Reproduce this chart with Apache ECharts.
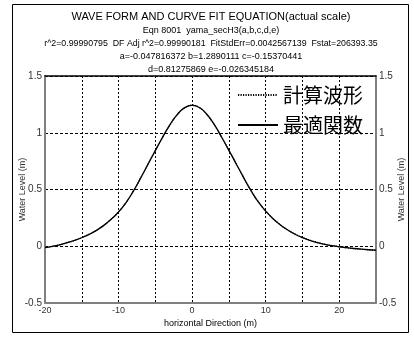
<!DOCTYPE html>
<html>
<head>
<meta charset="utf-8">
<script src="https://cdn.jsdelivr.net/npm/echarts@6/dist/echarts.min.js"></script>
<style>
  html, body { margin: 0; padding: 0; background: #fff; }
  #chart { width: 414px; height: 338px; }
</style>
</head>
<body>
<div id="chart"></div>
<script>
// horizontal position (m)
const xPos = [-20, -19, -18, -17, -16, -15, -14, -13, -12, -11, -10, -9, -8, -7, -6, -5, -4, -3, -2, -1,
  0, 1, 2, 3, 4, 5, 6, 7, 8, 9, 10, 11, 12, 13, 14, 15, 16, 17, 18, 19, 20, 21, 22, 23, 24, 25];

// 最適関数 (fitted curve)
const fitLevel = [-0.012, -0.001, 0.013, 0.031, 0.051, 0.075, 0.104, 0.140, 0.184, 0.238,
  0.302, 0.383, 0.484, 0.600, 0.722, 0.843, 0.962, 1.072, 1.162, 1.221,
  1.242, 1.222, 1.163, 1.073, 0.963, 0.845, 0.725, 0.605, 0.490, 0.390,
  0.310, 0.243, 0.188, 0.143, 0.106, 0.076, 0.052, 0.033, 0.017, 0.005,
  -0.005, -0.013, -0.020, -0.026, -0.031, -0.035];

// 計算波形 (computed wave)
const calcLevel = [-0.010, 0.000, 0.014, 0.032, 0.052, 0.077, 0.105, 0.141, 0.185, 0.239,
  0.303, 0.385, 0.486, 0.602, 0.723, 0.844, 0.962, 1.071, 1.160, 1.220,
  1.244, 1.221, 1.161, 1.072, 0.963, 0.846, 0.727, 0.607, 0.492, 0.392,
  0.311, 0.244, 0.189, 0.144, 0.107, 0.078, 0.054, 0.035, 0.018, 0.006,
  -0.004, -0.013, -0.021, -0.027, -0.032, -0.036];

const xTickLabels = [-20, -10, 0, 10, 20];

const titleLines = [
  "WAVE FORM AND CURVE FIT EQUATION(actual scale)",
  "Eqn 8001  yama_secH3(a,b,c,d,e)",
  "r^2=0.99990795  DF Adj r^2=0.99990181  FitStdErr=0.0042567139  Fstat=206393.35",
  "a=-0.047816372 b=1.2890111 c=-0.15370441",
  "d=0.81275869 e=-0.026345184",
];

const latin = "'Liberation Sans', Arial, sans-serif";
const cjk = "'Noto Sans CJK JP', sans-serif";

const chart = echarts.init(document.getElementById("chart"), null, { renderer: "canvas" });

const titleY = [17, 31, 44, 57, 70];
const titleSize = [11, 9, 8.8, 9, 9];
const titleGraphics = titleLines.map((t, i) => ({
  type: "text",
  silent: true,
  style: {
    text: t,
    x: 211,
    y: titleY[i],
    align: "center",
    verticalAlign: "middle",
    fill: "#000",
    font: titleSize[i] + "px " + latin,
  },
}));

const yAxisBase = {
  type: "value",
  min: -0.5,
  max: 1.5,
  interval: 0.5,
  axisTick: { show: false },
  axisLine: { show: true, onZero: false, lineStyle: { color: "#808080", width: 2 } },
  axisLabel: { fontSize: 10, color: "#333", margin: 3, fontFamily: latin },
  name: "Water Level (m)",
  nameLocation: "middle",
  nameRotate: 90,
  nameMoveOverlap: false,
  nameTextStyle: { fontSize: 9, color: "#333", fontFamily: latin },
};

chart.setOption({
  animation: false,
  backgroundColor: "#fff",
  textStyle: { fontFamily: latin },
  grid: { left: 45, right: 32, top: 76, bottom: 35 },
  graphic: [
    {
      type: "rect",
      silent: true,
      shape: { x: 12.5, y: 4.5, width: 396, height: 328 },
      style: { fill: "none", stroke: "#000", lineWidth: 1 },
    },
    ...titleGraphics,
  ],
  legend: {
    orient: "vertical",
    left: 232,
    top: 80,
    itemWidth: 40,
    itemHeight: 14,
    itemGap: 10,
    itemStyle: { color: "rgba(0,0,0,0)", borderColor: "rgba(0,0,0,0)", borderWidth: 0 },
    textStyle: { fontSize: 20, color: "#000", fontFamily: cjk },
    data: [
      { name: "計算波形", lineStyle: { width: 2, type: [1.2, 1.3], color: "#000" } },
      { name: "最適関数", lineStyle: { width: 2, color: "#000" } },
    ],
  },
  xAxis: [
    {
      type: "value",
      position: "bottom",
      min: -20,
      max: 25,
      interval: 5,
      axisTick: { show: false },
      axisLine: { onZero: false, lineStyle: { color: "#808080", width: 2 } },
      axisLabel: {
        fontSize: 9,
        color: "#333",
        margin: 3,
        formatter: (v) => (xTickLabels.includes(v) ? String(v) : ""),
      },
      splitLine: { show: true, lineStyle: { color: "#000", type: [2, 2], width: 1 } },
      name: "horizontal Direction (m)",
      nameLocation: "middle",
      nameGap: 16,
      nameMoveOverlap: false,
      nameTextStyle: { fontSize: 9, color: "#000" },
    },
    {
      type: "value",
      position: "top",
      min: -20,
      max: 25,
      interval: 5,
      axisTick: { show: false },
      axisLabel: { show: false },
      splitLine: { show: false },
      axisLine: { show: true, onZero: false, lineStyle: { color: "#000", width: 1.5 } },
    },
  ],
  yAxis: [
    {
      ...yAxisBase,
      position: "left",
      nameGap: 18,
      splitLine: { show: true, lineStyle: { color: "#000", type: [3, 2], width: 1 } },
    },
    {
      ...yAxisBase,
      position: "right",
      nameGap: 21,
      splitLine: { show: false },
    },
  ],
  series: [
    {
      name: "最適関数",
      type: "line",
      smooth: true,
      symbol: "none",
      xAxisIndex: 0,
      yAxisIndex: 0,
      itemStyle: { color: "#000" },
      lineStyle: { color: "#000", width: 1.3 },
      data: xPos.map((x, i) => [x, fitLevel[i]]),
    },
    {
      name: "計算波形",
      type: "line",
      smooth: true,
      symbol: "none",
      xAxisIndex: 0,
      yAxisIndex: 0,
      itemStyle: { color: "#000" },
      lineStyle: { color: "#000", width: 1.2, type: "dotted" },
      data: xPos.map((x, i) => [x, calcLevel[i]]),
    },
  ],
});
</script>
</body>
</html>
